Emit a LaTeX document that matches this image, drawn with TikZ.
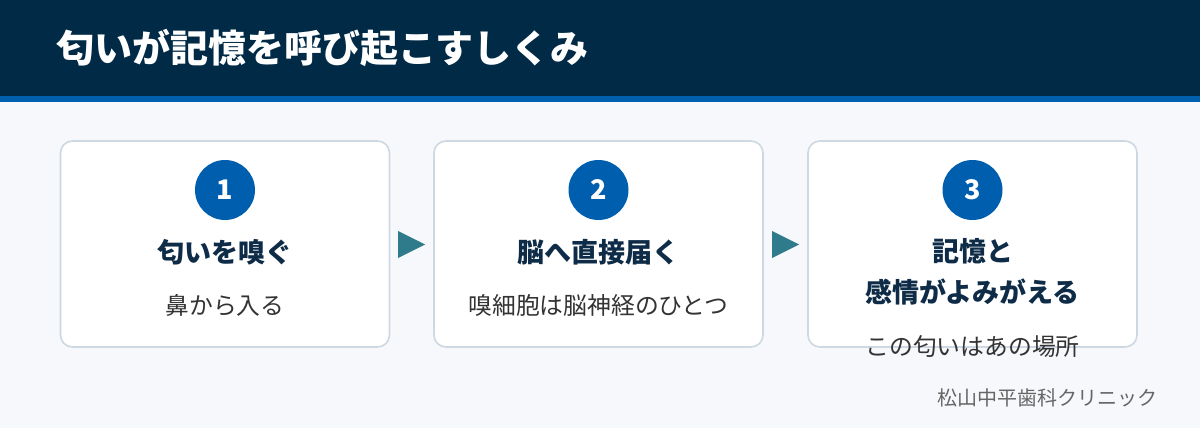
\documentclass[tikz,border=0pt]{standalone}
\usepackage{fontspec}
\setmainfont{Noto Sans CJK JP}
\definecolor{navy}{HTML}{002A45}
\definecolor{stripe}{HTML}{0060AE}
\definecolor{bgc}{HTML}{F6F8FB}
\definecolor{borderc}{HTML}{CDD8E3}
\definecolor{circc}{HTML}{005EAF}
\definecolor{headc}{HTML}{0E2C47}
\definecolor{subc}{HTML}{333333}
\definecolor{arrowc}{HTML}{2F7B8B}
\definecolor{footc}{HTML}{666666}
\begin{document}
\begin{tikzpicture}[x=1pt,y=-1pt,
  card/.style={draw=borderc,line width=1.6pt,fill=white,rounded corners=12pt,minimum width=329pt,minimum height=206pt,inner sep=0pt},
  numc/.style={circle,fill=circc,minimum size=60pt,inner sep=0pt,text=white,font=\fontsize{27}{30}\selectfont\bfseries},
  headt/.style={text=headc,font=\fontsize{27}{41}\selectfont\bfseries,align=center,inner sep=0pt},
  subt/.style={text=subc,font=\fontsize{23.8}{26}\selectfont,inner sep=0pt},
  tri/.style={fill=arrowc}]
\useasboundingbox (0,0) rectangle (1200,428);
\fill[bgc] (0,0) rectangle (1200,428);
\fill[navy] (0,0) rectangle (1200,96);
\fill[stripe] (0,96) rectangle (1200,102);
\node[anchor=west,text=white,font=\fontsize{38}{42}\selectfont\bfseries,inner sep=0pt] (title) at (56,48) {匂いが記憶を呼び起こすしくみ};
% cards
\node[card] (c1) at (225,244) {};
\node[card] (c2) at (598.5,244) {};
\node[card] (c3) at (972.5,244) {};
% circles
\node[numc] (n1) at (225,190) {1};
\node[numc] (n2) at (598.5,190) {2};
\node[numc] (n3) at (972.5,190) {3};
% headings
\node[headt] (h1) at (225,252) {匂いを嗅ぐ};
\node[headt] (h2) at (598.5,252) {脳へ直接届く};
\node[headt] (h3) at (972.5,272) {記憶と\\感情がよみがえる};
% sub texts
\node[subt] (s1) at (225,305) {鼻から入る};
\node[subt] (s2) at (598.5,305) {嗅細胞は脳神経のひとつ};
\node[subt] (s3) at (972.5,347) {この匂いはあの場所};
% arrows
\fill[tri] (398,231) -- (425,244.5) -- (398,258) -- cycle;
\fill[tri] (772,231) -- (799,244.5) -- (772,258) -- cycle;
% footer
\node[anchor=east,text=footc,font=\fontsize{20}{22}\selectfont,inner sep=0pt] (foot) at (1158,398) {松山中平歯科クリニック};
\end{tikzpicture}
\end{document}
